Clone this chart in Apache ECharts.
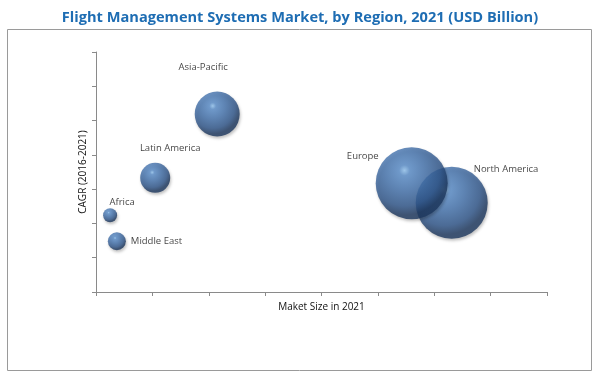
<!DOCTYPE html>
<html>
<head>
<meta charset="utf-8">
<script src="https://cdn.jsdelivr.net/npm/echarts@6/dist/echarts.min.js"></script>
<style>
  html, body { margin: 0; padding: 0; background: #fff; }
  #chart { width: 600px; height: 378px; }
</style>
</head>
<body>
<div id="chart"></div>
<script>
// regions and their values
var regions = ['Middle East', 'Africa', 'Latin America', 'Asia-Pacific', 'North America', 'Europe'];
var marketSize = [0.37, 0.25, 1.05, 2.15, 6.31, 5.6];   // x axis, no labels shown
var cagr = [1.48, 2.24, 3.33, 5.19, 2.6, 3.17];          // y axis, no labels shown
var bubbleSize = [18, 14, 30, 45, 72, 72];               // bubble diameter

// where each label sits relative to its bubble
var labelPos = {
    'Middle East': { position: 'right', offset: [0, 0] },
    'Africa': { position: 'top', offset: [12, 4] },
    'Latin America': { position: 'top', offset: [15, -5] },
    'Asia-Pacific': { position: 'top', offset: [-14, -14] },
    'North America': { position: 'right', offset: [-19, -34] },
    'Europe': { position: 'left', offset: [8, -27] }
};

// fake 3d ball
var sphere = {
    type: 'radial', x: 0.4, y: 0.32, r: 0.62,
    colorStops: [
        { offset: 0, color: '#94c6f2' },
        { offset: 0.12, color: '#5a8ecb' },
        { offset: 0.45, color: '#4473ae' },
        { offset: 0.8, color: '#2e558a' },
        { offset: 1, color: '#1c375e' }
    ]
};

var chart = echarts.init(document.getElementById('chart'));

var points = regions.map(function (name, i) {
    var lp = labelPos[name];
    return {
        name: name,
        value: [marketSize[i], cagr[i], bubbleSize[i]],
        label: { position: lp.position, offset: lp.offset }
    };
});

chart.setOption({
    animation: false,
    title: {
        text: 'Flight Management Systems Market, by Region, 2021 (USD Billion)',
        left: 'center',
        top: 5,
        textStyle: { fontFamily: 'Open Sans', fontSize: 14.6, fontWeight: 'bold', color: '#1e6db3' }
    },
    graphic: [{
        type: 'rect',
        shape: { x: 7.5, y: 29.5, width: 584, height: 341 },
        style: { fill: 'none', stroke: '#9a9a9a', lineWidth: 1 },
        silent: true
    }],
    grid: { left: 96, right: 53, top: 52, bottom: 86 },
    xAxis: {
        type: 'value', min: 0, max: 8, interval: 1,
        name: 'Maket Size in 2021',
        nameLocation: 'middle',
        nameGap: 10,
        nameTextStyle: { fontFamily: 'Open Sans', fontSize: 10, color: '#111' },
        axisLine: { lineStyle: { color: '#8a8a8a' } },
        axisTick: { show: true, length: 4, lineStyle: { color: '#8a8a8a' } },
        axisLabel: { show: false },
        splitLine: { show: false }
    },
    yAxis: {
        type: 'value', min: 0, max: 7, interval: 1,
        name: 'CAGR (2016-2021)',
        nameLocation: 'middle',
        nameGap: 8,
        nameTextStyle: { fontFamily: 'Open Sans', fontSize: 10, color: '#111' },
        axisLine: { show: true, lineStyle: { color: '#8a8a8a' } },
        axisTick: { show: true, length: 4, lineStyle: { color: '#8a8a8a' } },
        axisLabel: { show: false },
        splitLine: { show: false }
    },
    series: [{
        type: 'scatter',
        data: points,
        symbolSize: function (v) { return v[2]; },
        itemStyle: {
            color: sphere,
            shadowBlur: 3,
            shadowColor: 'rgba(0,0,0,0.3)',
            shadowOffsetX: 1,
            shadowOffsetY: 2
        },
        label: {
            show: true,
            formatter: '{b}',
            fontFamily: 'Open Sans',
            fontSize: 9.5,
            color: '#111'
        }
    }]
});
</script>
</body>
</html>
